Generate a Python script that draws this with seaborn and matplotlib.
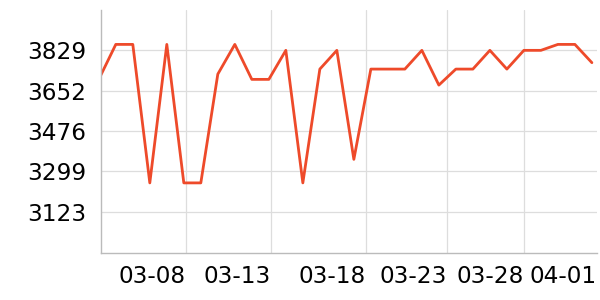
import matplotlib
matplotlib.use("Agg")
import matplotlib.pyplot as plt
import seaborn as sns
import pandas as pd

dates = ["03-03", "03-04", "03-05", "03-06", "03-07", "03-08", "03-09", "03-10",
         "03-11", "03-12", "03-13", "03-14", "03-15", "03-16", "03-17", "03-18",
         "03-19", "03-20", "03-21", "03-22", "03-23", "03-24", "03-25", "03-26",
         "03-27", "03-28", "03-29", "03-30", "03-31", "04-01"]
values = [3702, 3855, 3855, 3249, 3855, 3249, 3249, 3725, 3855, 3702,
          3702, 3829, 3249, 3747, 3829, 3352, 3747, 3747, 3747, 3829,
          3677, 3747, 3747, 3829, 3747, 3829, 3829, 3855, 3855, 3775]
y_ticks = [3123, 3299, 3476, 3652, 3829]
x_tick_labels = ["03-08", "03-13", "03-18", "03-23", "03-28", "04-01"]

df = pd.DataFrame({"idx": range(len(values)), "date": dates, "value": values})

sns.set_theme(style="white")
plt.rcParams['font.family'] = ['DejaVu Sans']

fig = plt.figure(figsize=(6, 3), dpi=100)
ax = fig.add_axes([0.168, 0.158, 0.827, 0.809])

sns.lineplot(data=df, x="idx", y="value", ax=ax, color="#ee4a2a", linewidth=2.0)

# tick positions on the category index axis (as in the reference)
x_tick_pos = [5.12, 10.12, 15.7, 20.45, 24.98, 29.25]
ax.set_xticks(x_tick_pos)
ax.set_xticklabels(x_tick_labels, ha="right")
ax.set_yticks(y_ticks)
ax.set_yticklabels([str(v) for v in y_ticks])

ax.set_xlim(0.118, 29.3)
ax.set_ylim(2944, 4006)

ax.grid(True, color="#dddddd", linewidth=0.9)
ax.set_axisbelow(True)
# no grid line at the last (edge) tick
ax.get_xgridlines()[-1].set_visible(False)
for side in ["top", "right"]:
    ax.spines[side].set_visible(False)
for side in ["left", "bottom"]:
    ax.spines[side].set_color("#bbbbbb")
    ax.spines[side].set_linewidth(1.0)

ax.tick_params(axis="both", which="major", labelsize=16.7, colors="#000000",
               length=3, width=0.8, color="#cccccc")
ax.tick_params(axis="x", pad=6)
ax.tick_params(axis="y", pad=7.5)
ax.xaxis.get_major_ticks()[-1].tick1line.set_visible(False)
ax.set_xlabel("")
ax.set_ylabel("")

fig.savefig("out.png", dpi=100)
